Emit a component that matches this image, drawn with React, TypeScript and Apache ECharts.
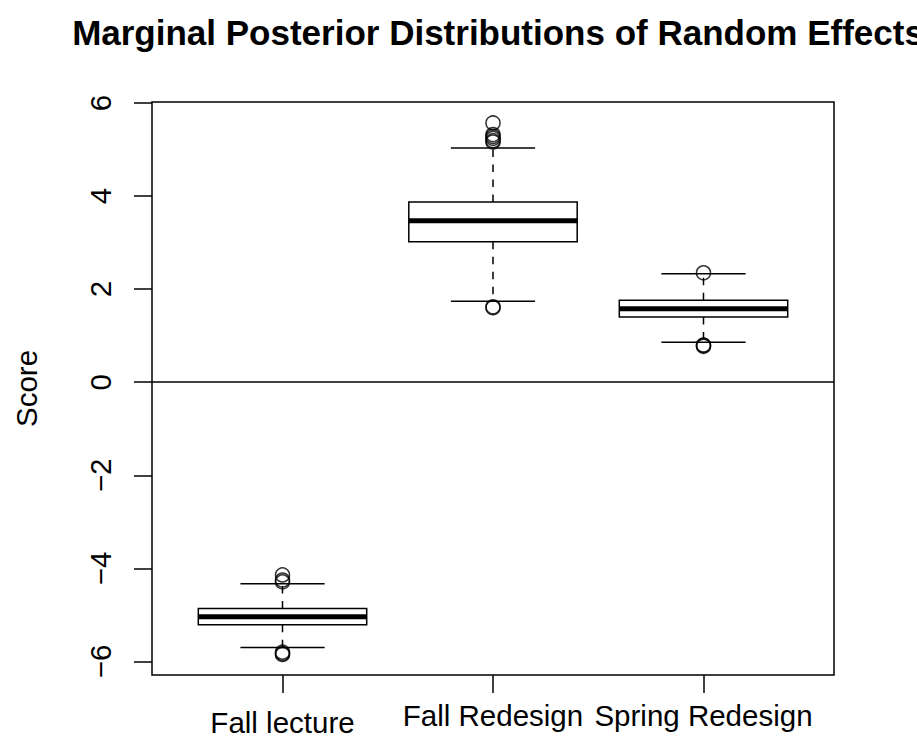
import React, { useEffect, useRef } from "react";
import * as echarts from "echarts";

// Groups along the x axis (placed at x = 1, 2, 3)
const categories = ["Fall lecture", "Fall Redesign", "Spring Redesign"];

// Five-number summaries per group
const whiskerLow = [-5.7, 1.74, 0.86];
const lowerQuartile = [-5.21, 3.02, 1.4];
const medians = [-5.04, 3.47, 1.58];
const upperQuartile = [-4.86, 3.87, 1.76];
const whiskerHigh = [-4.33, 5.03, 2.33];

// Points beyond the whiskers
const fallLectureOutliers = [-4.14, -4.25, -4.29, -5.8, -5.83, -5.85];
const fallRedesignOutliers = [5.57, 5.32, 5.28, 5.24, 5.19, 5.16, 1.6, 1.62];
const springRedesignOutliers = [2.35, 0.77, 0.79, 0.8];

const yTicks = [-6, -4, -2, 0, 2, 4, 6];
const xTicks = [1, 2, 3];

const FONT = "'Liberation Sans', Arial, Helvetica, sans-serif";
const LW = 1.5;

export default function App() {
  const ref = useRef<HTMLDivElement>(null);

  useEffect(() => {
    if (!ref.current) return;
    const chart = echarts.init(ref.current, null, { renderer: "svg" });

    const boxRows = categories.map((_, i) => [
      i + 1,
      whiskerLow[i],
      lowerQuartile[i],
      medians[i],
      upperQuartile[i],
      whiskerHigh[i],
    ]);

    const outlierPoints: number[][] = [];
    [fallLectureOutliers, fallRedesignOutliers, springRedesignOutliers].forEach(
      (vals, i) => vals.forEach((v) => outlierPoints.push([i + 1, v]))
    );

    const fmtNum = (v: number) => (v < 0 ? "\u2212" + Math.abs(v) : String(v));

    chart.setOption({
      animation: false,
      backgroundColor: "#fff",
      title: {
        text: "Marginal Posterior Distributions of Random Effects",
        left: 493,
        top: 10,
        textAlign: "center",
        textStyle: { fontSize: 35, fontWeight: "bold", color: "#000", fontFamily: FONT },
      },
      grid: {
        left: 152,
        top: 102,
        right: 83,
        bottom: 68,
        show: true,
        borderColor: "#000",
        borderWidth: LW,
        backgroundColor: "transparent",
      },
      xAxis: {
        type: "value",
        min: 0.38,
        max: 3.62,
        axisLine: { show: false, onZero: false },
        splitLine: { show: false },
        axisTick: {
          show: true,
          length: 18,
          customValues: xTicks,
          lineStyle: { color: "#000", width: LW },
        },
        axisLabel: {
          customValues: xTicks,
          margin: 25,
          color: "#000",
          fontSize: 29.5,
          fontFamily: FONT,
          formatter: (v: number) => {
            const name = categories[Math.round(v) - 1];
            return Math.round(v) === 1 ? "{low|" + name + "}" : "{high|" + name + "}";
          },
          rich: {
            low: { fontSize: 29.5, fontFamily: FONT, color: "#000", padding: [7, 0, 0, 0] },
            high: { fontSize: 29.5, fontFamily: FONT, color: "#000" },
          },
        },
      },
      yAxis: {
        type: "value",
        min: -6.29,
        max: 6.02,
        name: "Score",
        nameLocation: "middle",
        nameRotate: 90,
        nameGap: 111,
        nameTextStyle: { fontSize: 29.5, color: "#000", fontFamily: FONT },
        axisLine: { show: false, onZero: false },
        splitLine: { show: false },
        axisTick: {
          show: true,
          length: 18,
          customValues: yTicks,
          lineStyle: { color: "#000", width: LW },
        },
        axisLabel: {
          customValues: yTicks,
          rotate: 90,
          margin: 37,
          color: "#000",
          fontSize: 29.5,
          fontFamily: FONT,
          formatter: fmtNum,
        },
      },
      series: [
        {
          type: "custom",
          data: boxRows,
          encode: { x: 0, y: [1, 2, 3, 4, 5] },
          renderItem: (params: any, api: any) => {
            const x = api.value(0);
            const pLo = api.coord([x, api.value(1)]);
            const pQ1 = api.coord([x, api.value(2)]);
            const pMed = api.coord([x, api.value(3)]);
            const pQ3 = api.coord([x, api.value(4)]);
            const pHi = api.coord([x, api.value(5)]);
            const unit = api.size([1, 0])[0];
            const boxHalf = unit * 0.4;
            const stapleHalf = unit * 0.2;
            const cx = pMed[0];
            const solid = { stroke: "#000", lineWidth: LW, fill: null };
            const dashed = { stroke: "#000", lineWidth: LW, lineDash: [7.5, 7.5], fill: null };
            return {
              type: "group",
              children: [
                { type: "line", shape: { x1: cx, y1: pQ3[1], x2: cx, y2: pHi[1] }, style: dashed },
                { type: "line", shape: { x1: cx, y1: pQ1[1], x2: cx, y2: pLo[1] }, style: dashed },
                { type: "line", shape: { x1: cx - stapleHalf, y1: pHi[1], x2: cx + stapleHalf, y2: pHi[1] }, style: solid },
                { type: "line", shape: { x1: cx - stapleHalf, y1: pLo[1], x2: cx + stapleHalf, y2: pLo[1] }, style: solid },
                {
                  type: "rect",
                  shape: { x: cx - boxHalf, y: pQ3[1], width: boxHalf * 2, height: pQ1[1] - pQ3[1] },
                  style: { stroke: "#000", lineWidth: LW, fill: "#fff" },
                },
                { type: "line", shape: { x1: cx - boxHalf, y1: pMed[1], x2: cx + boxHalf, y2: pMed[1] }, style: { stroke: "#000", lineWidth: 5 } },
              ],
            };
          },
          z: 2,
        },
        {
          type: "scatter",
          data: outlierPoints,
          symbol: "circle",
          symbolSize: 14,
          itemStyle: { color: "rgba(0,0,0,0)", borderColor: "#000", borderWidth: LW },
          z: 3,
          markLine: {
            silent: true,
            symbol: ["none", "none"],
            label: { show: false },
            lineStyle: { color: "#000", width: LW, type: "solid" },
            data: [{ yAxis: 0 }],
          },
        },
      ],
    });

    return () => chart.dispose();
  }, []);

  return (
    <div
      ref={ref}
      style={{ position: "absolute", left: 0, top: 0, width: 917, height: 743 }}
    />
  );
}
